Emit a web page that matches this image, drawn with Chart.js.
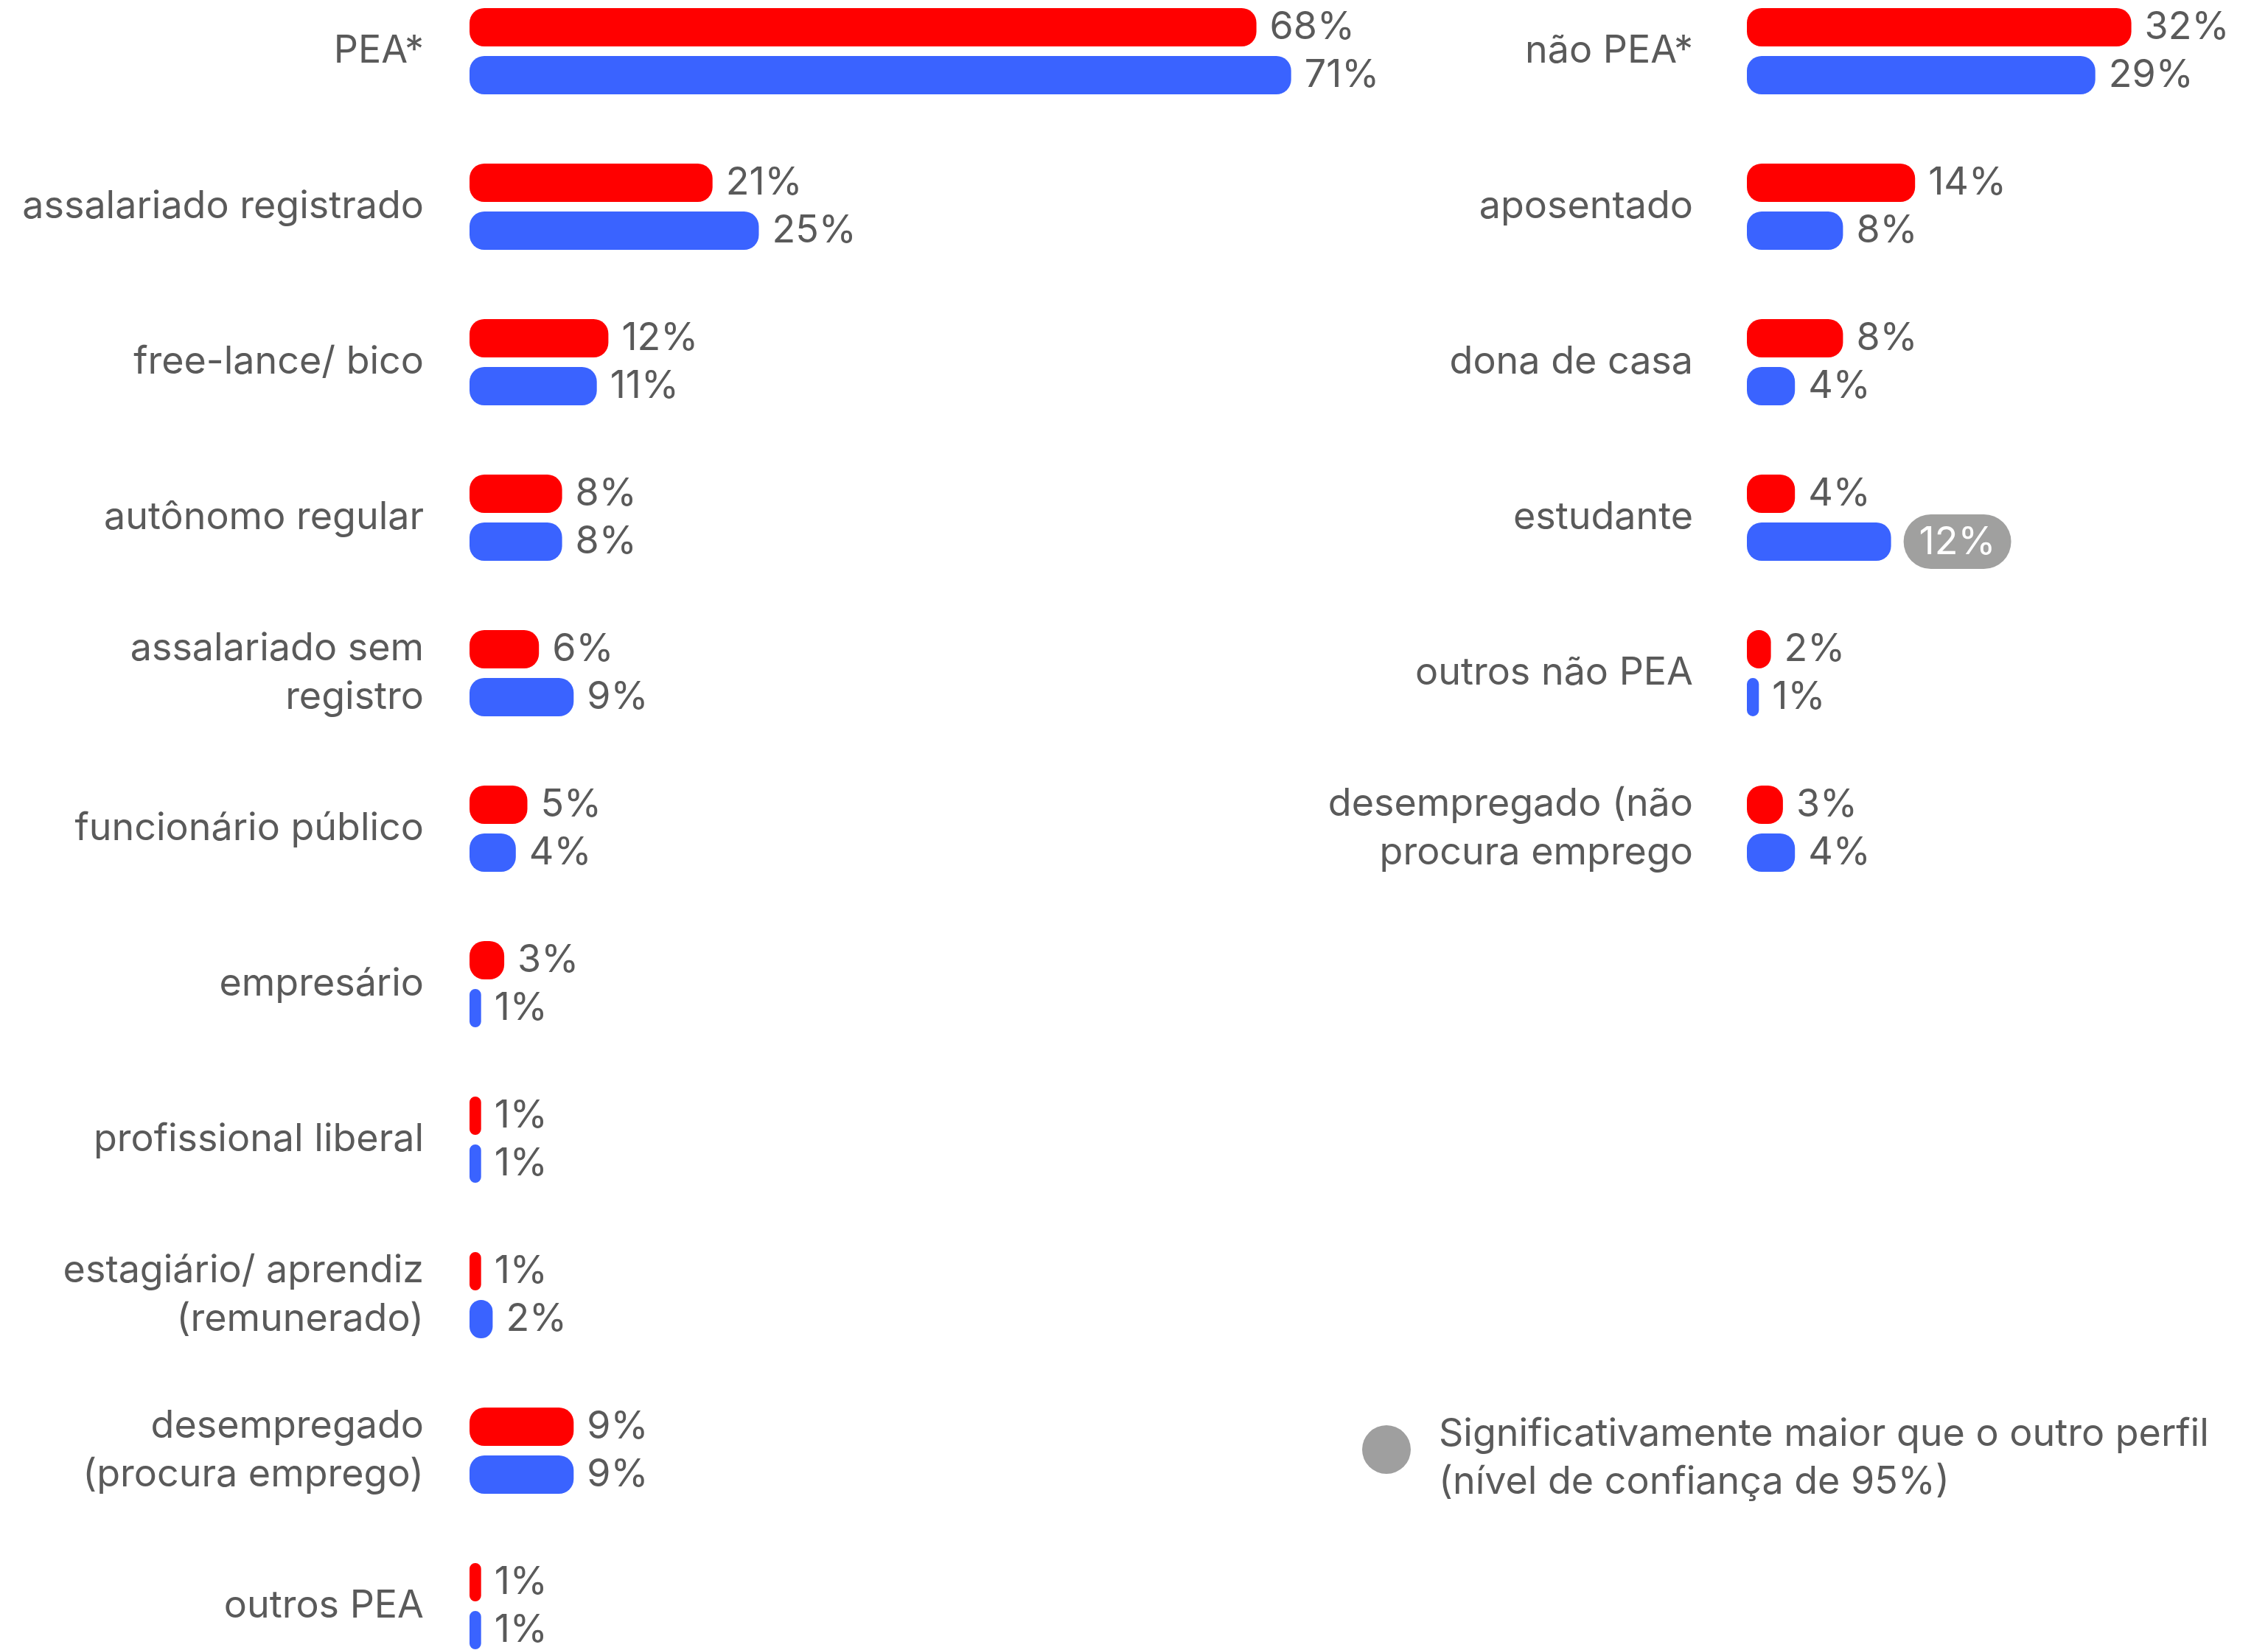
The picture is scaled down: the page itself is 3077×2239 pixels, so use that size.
<!DOCTYPE html>
<html lang="pt-BR">
<head>
<meta charset="utf-8">
<title>Ocupação - PEA e não PEA</title>
<script src="https://cdn.jsdelivr.net/npm/chart.js@4.4.1/dist/chart.umd.min.js"></script>
<style>
    html, body {
        margin: 0;
        padding: 0;
        background: #ffffff;
        overflow: hidden;
    }
    .wrap {
        position: relative;
        width: 3077px;
        height: 2239px;
    }
    .wrap canvas {
        position: absolute;
        left: 0;
        top: 0;
    }
    .nota {
        position: absolute;
        left: 1848px;
        top: 1911px;
        font-family: Inter, sans-serif;
        font-size: 52px;
        line-height: 65px;
        color: #5a5a5a;
    }
    .nota .bolinha {
        position: absolute;
        left: 0;
        top: 23px;
        width: 66px;
        height: 66px;
        border-radius: 50%;
        background: #9f9f9f;
    }
    .nota .texto {
        margin-left: 104px;
        white-space: nowrap;
    }
</style>
</head>
<body>
<div class="wrap">
    <canvas id="peaChart" width="3077" height="2239"></canvas>
    <canvas id="naoPeaChart" width="3077" height="2239"></canvas>
    <div class="nota">
        <div class="bolinha"></div>
        <div class="texto">Significativamente maior que o outro perfil<br>(nível de confiança de 95%)</div>
    </div>
</div>
<script>
// PEA
const categoriasPea = [
    'PEA*',
    'assalariado registrado',
    'free-lance/ bico',
    'autônomo regular',
    ['assalariado sem', 'registro'],
    'funcionário público',
    'empresário',
    'profissional liberal',
    ['estagiário/ aprendiz', '(remunerado)'],
    ['desempregado', '(procura emprego)'],
    'outros PEA'
];
const peaVermelho = [68, 21, 12, 8, 6, 5, 3, 1, 1, 9, 1];
const peaAzul = [71, 25, 11, 8, 9, 4, 1, 1, 2, 9, 1];
const peaVermelhoDestaque = [0, 0, 0, 0, 0, 0, 0, 0, 0, 0, 0];
const peaAzulDestaque = [0, 0, 0, 0, 0, 0, 0, 0, 0, 0, 0];

// não PEA
const categoriasNaoPea = [
    'não PEA*',
    'aposentado',
    'dona de casa',
    'estudante',
    'outros não PEA',
    ['desempregado (não', 'procura emprego']
];
const naoPeaVermelho = [32, 14, 8, 4, 2, 3];
const naoPeaAzul = [29, 8, 4, 12, 1, 4];
const naoPeaVermelhoDestaque = [0, 0, 0, 0, 0, 0];
const naoPeaAzulDestaque = [0, 0, 0, 1, 0, 0];

const RED = '#ff0000';
const BLUE = '#3a63ff';
const TEXT = '#5a5a5a';
const FONT = 'Inter';

// Writes the % next to each bar, with a grey pill when the value is significant
const valueLabels = {
    id: 'valueLabels',
    afterDatasetsDraw(chart, args, opts) {
        const ctx = chart.ctx;
        ctx.save();
        ctx.font = '52px ' + FONT;
        ctx.textBaseline = 'middle';
        chart.data.datasets.forEach(function(dataset, i) {
            const flags = opts.highlight[i] || [];
            chart.getDatasetMeta(i).data.forEach(function(bar, j) {
                const text = dataset.data[j] + '%';
                if (flags[j]) {
                    const w = ctx.measureText(text).width + 42;
                    const x = bar.x + 17;
                    ctx.fillStyle = '#a0a09f';
                    ctx.beginPath();
                    ctx.roundRect(x, bar.y - 37, w, 74, 37);
                    ctx.fill();
                    ctx.fillStyle = '#ffffff';
                    ctx.textAlign = 'center';
                    ctx.fillText(text, x + w / 2, bar.y + 1);
                } else {
                    ctx.fillStyle = TEXT;
                    ctx.textAlign = 'left';
                    ctx.fillText(text, bar.x + 18, bar.y);
                }
            });
        });
        ctx.restore();
    }
};

function createChart(el, labels, red, blue, highlight, layout) {
    return new Chart(el, {
        type: 'bar',
        data: {
            labels: labels,
            datasets: [{
                label: 'perfil A',
                data: red,
                backgroundColor: RED
            }, {
                label: 'perfil B',
                data: blue,
                backgroundColor: BLUE
            }]
        },
        options: {
            indexAxis: 'y',
            responsive: false,
            animation: false,
            events: [],
            // 211px per row: two 52px bars with a 13px gap
            categoryPercentage: 130 / 211,
            barPercentage: 0.8,
            borderRadius: 20,
            borderSkipped: false,
            clip: false,
            layout: {
                padding: layout.padding
            },
            scales: {
                x: {
                    display: false,
                    min: 0,
                    max: layout.max
                },
                y: {
                    type: 'category',
                    offset: false,
                    grid: { display: false, drawTicks: false },
                    border: { display: false },
                    ticks: {
                        color: TEXT,
                        padding: layout.tickPadding,
                        autoSkip: false,
                        font: { family: FONT, size: 52, lineHeight: 1.27 }
                    },
                    afterFit: function(scale) {
                        scale.width = layout.axisWidth;
                        // rows are placed by layout.padding only
                        scale.paddingTop = 0;
                        scale.paddingBottom = 0;
                    }
                }
            },
            plugins: {
                legend: { display: false },
                tooltip: { enabled: false },
                valueLabels: { highlight: highlight }
            }
        },
        plugins: [valueLabels]
    });
}

document.addEventListener('DOMContentLoaded', function() {
    // Left block: bars start at x=637, ~15.7px per point
    createChart(document.getElementById('peaChart'), categoriasPea, peaVermelho, peaAzul,
        [peaVermelhoDestaque, peaAzulDestaque], {
            padding: { top: 69.5, bottom: 59.5, left: 0, right: 870 },
            max: 100,
            axisWidth: 637,
            tickPadding: 62
        });

    // Right block: bars start at x=2370, ~16.3px per point
    createChart(document.getElementById('naoPeaChart'), categoriasNaoPea, naoPeaVermelho, naoPeaAzul,
        [naoPeaVermelhoDestaque, naoPeaAzulDestaque], {
            padding: { top: 69.5, bottom: 1114.5, left: 1700, right: 55 },
            max: 40,
            axisWidth: 670,
            tickPadding: 73
        });
});
</script>
</body>
</html>
